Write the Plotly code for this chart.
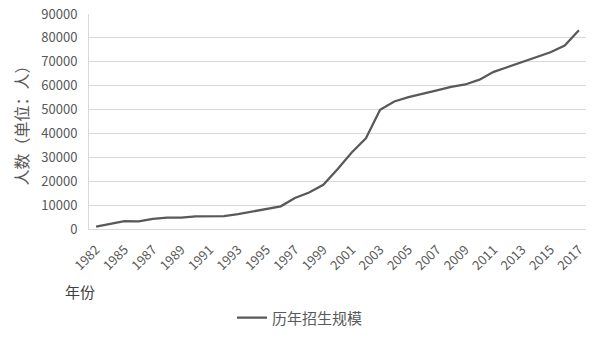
import plotly.graph_objects as go

years = ["1982", "1984", "1985", "1986", "1987", "1988", "1989", "1990", "1991",
         "1992", "1993", "1994", "1995", "1996", "1997", "1998", "1999", "2000",
         "2001", "2002", "2003", "2004", "2005", "2006", "2007", "2008", "2009",
         "2010", "2011", "2012", "2013", "2014", "2015", "2016", "2017"]
enrollment = [1000, 2300, 3300, 3200, 4200, 4800, 4800, 5300, 5300,
              5400, 6200, 7200, 8500, 9500, 13000, 15300, 18500, 25000,
              32000, 38000, 49900, 53400, 55200, 56500, 58000, 59500, 60500,
              62500, 65800, 67800, 69800, 71800, 74000, 76800, 83200]
tick_labels = years[0::2]
series_name = "历年招生规模"
y_title = "人数（单位：人）"
x_title = "年份"

FONT = "Noto Sans CJK SC, Liberation Sans, sans-serif"
TXT = "#595959"
GRID = "#d9d9d9"

fig = go.Figure()
fig.add_trace(go.Scatter(
    x=years, y=enrollment, mode="lines", name=series_name,
    line=dict(color="#595959", width=2.25),
))

fig.update_layout(
    width=600, height=340,
    margin=dict(l=89, r=14, t=14, b=111, autoexpand=False),
    paper_bgcolor="white", plot_bgcolor="white",
    font=dict(family=FONT, size=13, color=TXT),
    showlegend=True,
    legend=dict(orientation="h", xref="container", yref="container",
                x=0.5, xanchor="center", y=0.065, yanchor="middle",
                font=dict(size=15, color=TXT)),
    xaxis=dict(type="category", categoryorder="array", categoryarray=years,
               range=[-0.5, len(years) - 0.5],
               tickmode="array", tickvals=tick_labels, ticktext=tick_labels,
               tickangle=-45, showgrid=False, showline=True, linecolor=GRID,
               linewidth=1, ticks="", ticklabelstandoff=7,
               tickfont=dict(size=13, color=TXT),
               automargin=False),
    yaxis=dict(range=[0, 90000], dtick=10000, tickformat="d",
               showgrid=True, gridcolor=GRID,
               gridwidth=1, showline=True, linecolor=GRID, zeroline=False,
               ticks="", ticklabelstandoff=8, tickfont=dict(size=13, color=TXT),
               title=dict(text=y_title, font=dict(size=16, color=TXT), standoff=8),
               automargin=False),
    annotations=[dict(text=x_title, xref="paper", yref="paper",
                      x=-0.018, y=-0.29, xanchor="center", yanchor="middle",
                      showarrow=False, font=dict(size=15, color="#404040"))],
)

fig.write_html("out.html")
